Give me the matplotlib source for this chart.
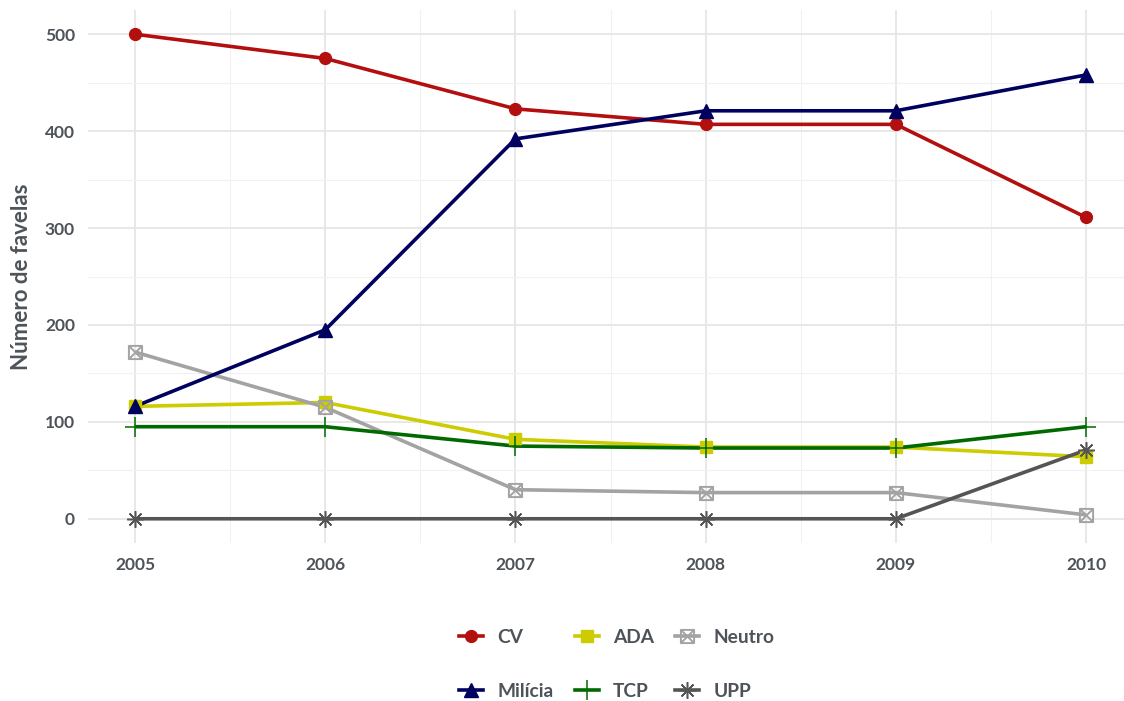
import matplotlib
matplotlib.use("Agg")
import matplotlib.pyplot as plt
from matplotlib.path import Path
from matplotlib.lines import Line2D

years = [2005, 2006, 2007, 2008, 2009, 2010]
cv = [500, 475, 423, 407, 407, 311]
ada = [116, 120, 82, 74, 74, 64]
neutro = [172, 115, 30, 27, 27, 4]
milicia = [116, 195, 392, 421, 421, 458]
tcp = [95, 95, 75, 73, 73, 95]
upp = [0, 0, 0, 0, 0, 71]

y_ticks = [0, 100, 200, 300, 400, 500]
y_label = "Número de favelas"

plt.rcParams['font.family'] = ['Lato', 'DejaVu Sans']
text_color = '#4d5358'

# square with a cross inside (hollow)
box_x = Path(
    [(-1, -1), (1, -1), (1, 1), (-1, 1), (-1, -1),
     (-1, -1), (1, 1), (-1, 1), (1, -1)],
    [Path.MOVETO, Path.LINETO, Path.LINETO, Path.LINETO, Path.CLOSEPOLY,
     Path.MOVETO, Path.LINETO, Path.MOVETO, Path.LINETO])

series = [
    # name, values, color, marker, size, edge width, filled
    ("CV", cv, '#b30f0f', 'o', 8.5, 1.0, True),
    ("ADA", ada, '#cccc00', 's', 9.0, 1.0, True),
    ("Neutro", neutro, '#a3a3a3', box_x, 9.5, 1.4, False),
    ("Milícia", milicia, '#00005f', '^', 10.5, 1.0, True),
    ("TCP", tcp, '#006a00', '+', 15.0, 1.1, False),
    ("UPP", upp, '#555555', (8, 2, 0), 12.0, 1.1, False),
]

fig = plt.figure(figsize=(11.24, 7.01), dpi=100)
W, H = 1124, 701
x0, x1 = 87.5, 1133.6
y_top, y_bot = 10, 543
ax = fig.add_axes([x0 / W, 1 - y_bot / H, (x1 - x0) / W, (y_bot - y_top) / H])
ax.set_xlim(2004.75, 2010.25)
ax.set_ylim(-25, 525)

ax.set_xticks(years)
ax.set_xticks([y + 0.5 for y in years[:-1]], minor=True)
ax.set_yticks(y_ticks)
ax.set_yticks([50, 150, 250, 350, 450], minor=True)
ax.grid(True, which='major', color='#e6e6e6', linewidth=1.3)
ax.grid(True, which='minor', color='#f1f1f1', linewidth=0.8)
ax.set_axisbelow(True)
for s in ax.spines.values():
    s.set_visible(False)
ax.tick_params(which='both', length=0)
ax.tick_params(axis='y', pad=9, labelsize=12.5, labelcolor=text_color)
ax.tick_params(axis='x', pad=10, labelsize=12.5, labelcolor=text_color)
for lab in ax.get_xticklabels() + ax.get_yticklabels():
    lab.set_fontweight('bold')
ax.set_ylabel(y_label, fontsize=16, color=text_color, fontweight='bold', labelpad=9)

handles = {}
for name, vals, color, marker, ms, mew, filled in series:
    ax.plot(years, vals, color=color, linewidth=2.6, solid_capstyle='butt', zorder=2)
for name, vals, color, marker, ms, mew, filled in series:
    kw = dict(marker=marker, markersize=ms, markeredgewidth=mew, linestyle='none',
              markeredgecolor=color, markerfacecolor=color if filled else 'none')
    ax.plot(years, vals, zorder=3, clip_on=False, **kw)
    handles[name] = Line2D([], [], color=color, linewidth=2.6,
                           **{k: v for k, v in kw.items() if k != 'linestyle'})

order = ["CV", "Milícia", "ADA", "TCP", "Neutro", "UPP"]
leg = fig.legend([handles[n] for n in order], order, ncol=3, loc='center',
                 bbox_to_anchor=(617 / W, 1 - 664.5 / H), frameon=False,
                 prop={'size': 13.8, 'weight': 'bold'}, labelcolor=text_color,
                 handlelength=1.25, handletextpad=0.75, columnspacing=1.1,
                 labelspacing=1.95)

fig.savefig("out.png", dpi=100, facecolor='white')
